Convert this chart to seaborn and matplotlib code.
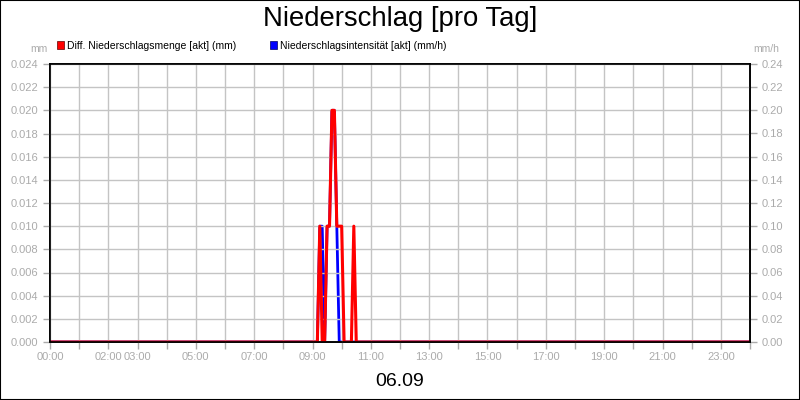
import pandas as pd
import seaborn as sns
import matplotlib.pyplot as plt
from matplotlib.patches import Patch, Rectangle

# Niederschlag 06.09, 5-Minuten-Werte (nur Stuetzpunkte, sonst 0)
zeit_menge = ["00:00", "09:10", "09:15", "09:20", "09:25", "09:30", "09:35", "09:40",
              "09:45", "09:50", "09:55", "10:00", "10:05", "10:20", "10:25", "10:30", "24:00"]
menge_mm = [0.0, 0.0, 0.01, 0.0, 0.0, 0.01, 0.01, 0.02,
            0.02, 0.01, 0.01, 0.01, 0.0, 0.0, 0.01, 0.0, 0.0]

zeit_int = ["00:00", "09:10", "09:15", "09:20", "09:25", "09:30", "09:35", "09:40",
            "09:45", "09:50", "09:55", "24:00"]
intens_mmh = [0.0, 0.0, 0.1, 0.1, 0.0, 0.1, 0.1, 0.2,
              0.2, 0.1, 0.0, 0.0]

x_labels = ["00:00", "", "02:00", "03:00", "", "05:00", "", "07:00", "", "09:00", "", "11:00", "",
            "13:00", "", "15:00", "", "17:00", "", "19:00", "", "21:00", "", "23:00", ""]
y_left = [0.000, 0.002, 0.004, 0.006, 0.008, 0.010, 0.012, 0.014, 0.016, 0.018, 0.020, 0.022, 0.024]
y_right = [0.00, 0.02, 0.04, 0.06, 0.08, 0.10, 0.12, 0.14, 0.16, 0.18, 0.20, 0.22, 0.24]


def to_hours(times):
    return [pd.to_timedelta(t + ":00").total_seconds() / 3600 for t in times]


df_m = pd.DataFrame({"h": to_hours(zeit_menge), "v": menge_mm})
df_i = pd.DataFrame({"h": to_hours(zeit_int), "v": intens_mmh})

sns.set_style("white")
plt.rcParams['font.family'] = ['Liberation Sans', 'DejaVu Sans']
plt.rcParams['text.color'] = 'black'

grey = "#ababab"
fig = plt.figure(figsize=(8, 4), dpi=100)
ax = fig.add_axes([0.0625, 0.145, 0.875, 0.695])
ax2 = ax.twinx()

sns.lineplot(data=df_i, x="h", y="v", ax=ax2, color="#0000ff", linewidth=2.0)
sns.lineplot(data=df_m, x="h", y="v", ax=ax, color="#ff0000", linewidth=2.2)

ax.set_zorder(ax2.get_zorder() + 1)
ax.patch.set_visible(False)

ax.set_xlim(0, 24)
ax.set_ylim(0, 0.024)
ax2.set_ylim(0, 0.24)
ax.set_xticks(range(25))
ax.set_xticklabels(x_labels)
ax.set_yticks(y_left)
ax.set_yticklabels([f"{v:.3f}" for v in y_left])
ax2.set_yticks(y_right)
ax2.set_yticklabels([f"{v:.2f}" for v in y_right])
ax.set_xlabel("")
ax.set_ylabel("")
ax2.set_ylabel("")

ax.grid(True, color="#c4c4c4", linewidth=1)
for a in (ax, ax2):
    a.tick_params(axis="both", colors=grey, labelsize=8, length=5, width=1, direction="out")
    for s in a.spines.values():
        s.set_color("black")
        s.set_linewidth(1.2)
ax.tick_params(axis="y", left=True)
ax.tick_params(axis="x", bottom=True, pad=2)
ax2.tick_params(axis="y", right=True)

fig.text(0.5, 0.952, "Niederschlag [pro Tag]", ha="center", va="center", fontsize=19.8, color="black")
fig.text(0.5, 0.047, "06.09", ha="center", va="center", fontsize=14, color="black")
fig.text(0.06, 0.878, "mm", ha="right", va="center", fontsize=7.5, color=grey)
fig.text(0.942, 0.878, "mm/h", ha="left", va="center", fontsize=7.5, color=grey)

handles = [Patch(facecolor="#ff0000", edgecolor="#600000", linewidth=0.5),
           Patch(facecolor="#0000ff", edgecolor="#000060", linewidth=0.5)]
leg = fig.legend(handles, ["Diff. Niederschlagsmenge [akt] (mm)", "Niederschlagsintensität [akt] (mm/h)"],
                 loc="center left", bbox_to_anchor=(0.059, 0.886), ncol=2, frameon=False, fontsize=7.5,
                 handlelength=0.7, handleheight=0.7, handletextpad=0.3, columnspacing=3.2)
for t in leg.get_texts():
    t.set_color("black")

fig.patches.append(Rectangle((0, 0), 1, 1, transform=fig.transFigure, fill=False,
                             edgecolor="black", linewidth=1.5))

fig.savefig("out.png", dpi=100)
